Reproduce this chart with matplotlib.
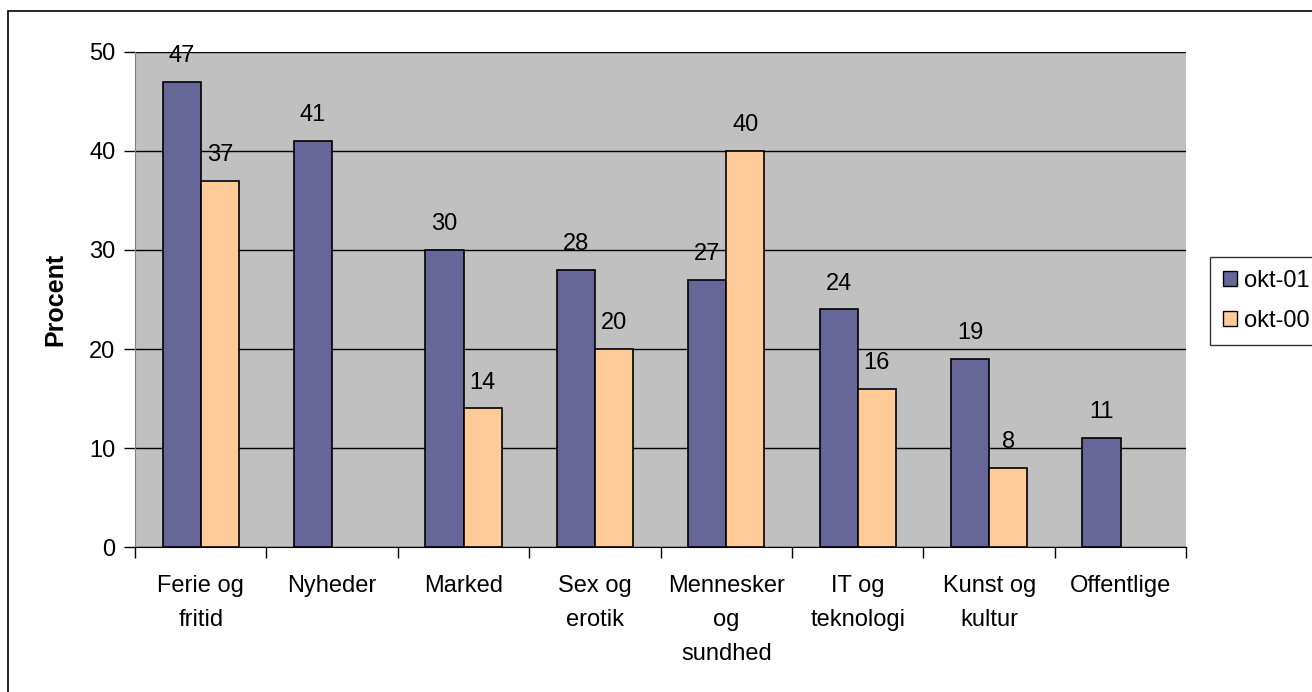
import numpy as np
import matplotlib.pyplot as plt
from matplotlib.patches import Rectangle, Patch

kategorier = ['Ferie og\nfritid', 'Nyheder', 'Marked', 'Sex og\nerotik',
              'Mennesker\nog\nsundhed', 'IT og\nteknologi', 'Kunst og\nkultur', 'Offentlige']
okt01 = [47, 41, 30, 28, 27, 24, 19, 11]
okt00 = [37, None, 14, 20, 40, 16, 8, None]

plt.rcParams['font.family'] = ['Liberation Sans', 'DejaVu Sans']

fig = plt.figure(figsize=(13.12, 6.92), dpi=100)
ax = fig.add_axes([0.1029, 0.2095, 0.8013, 0.7154])

x = np.arange(len(kategorier))
w = 0.29
for i in range(len(x)):
    ax.bar(x[i] - w/2, okt01[i], w, color='#666699', edgecolor='black', linewidth=1.2, zorder=3)
    ax.text(x[i] - w/2, okt01[i] + 2.0, str(okt01[i]), ha='center', va='baseline', fontsize=17)
    if okt00[i] is not None:
        ax.bar(x[i] + w/2, okt00[i], w, color='#FFCC99', edgecolor='black', linewidth=1.2, zorder=3)
        ax.text(x[i] + w/2, okt00[i] + 2.0, str(okt00[i]), ha='center', va='baseline', fontsize=17)

ax.set_facecolor('#C0C0C0')
ax.set_xlim(-0.5, len(kategorier) - 0.5)
ax.set_ylim(0, 50)
ax.set_yticks([0, 10, 20, 30, 40, 50])
ax.tick_params(axis='y', labelsize=17, length=8, width=1, pad=6)
ax.yaxis.grid(True, color='black', linewidth=1, zorder=1)
ax.set_axisbelow(True)

ax.set_xticks(np.arange(len(kategorier) + 1) - 0.5)
ax.set_xticklabels([])
ax.tick_params(axis='x', which='major', length=8, width=1)
ax.set_xticks(x, minor=True)
ax.set_xticklabels(kategorier, minor=True, fontsize=17, linespacing=1.72)
ax.tick_params(axis='x', which='minor', length=0, pad=20)

for s in ['top', 'right']:
    ax.spines[s].set_visible(False)
ax.spines['left'].set_color('#808080')
ax.spines['bottom'].set_color('black')

ax.set_ylabel('Procent', fontsize=18, fontweight='bold', labelpad=16)

# legende
handles = [Patch(facecolor='#666699', edgecolor='black'), Patch(facecolor='#FFCC99', edgecolor='black')]
leg = fig.legend(handles, ['okt-01', 'okt-00'], loc='upper left', bbox_to_anchor=(0.9223, 0.6286),
                 fontsize=17, frameon=True, fancybox=False, edgecolor='black',
                 handlelength=0.6, handleheight=0.6, handletextpad=0.3, labelspacing=0.75,
                 borderpad=0.55, borderaxespad=0)
leg.get_frame().set_linewidth(1)

fig.patches.append(Rectangle((8/1312, -0.05), 1.0, 1.05 - 11/692, transform=fig.transFigure,
                             fill=False, edgecolor='black', linewidth=1.2))

fig.savefig('out.png', dpi=100)
